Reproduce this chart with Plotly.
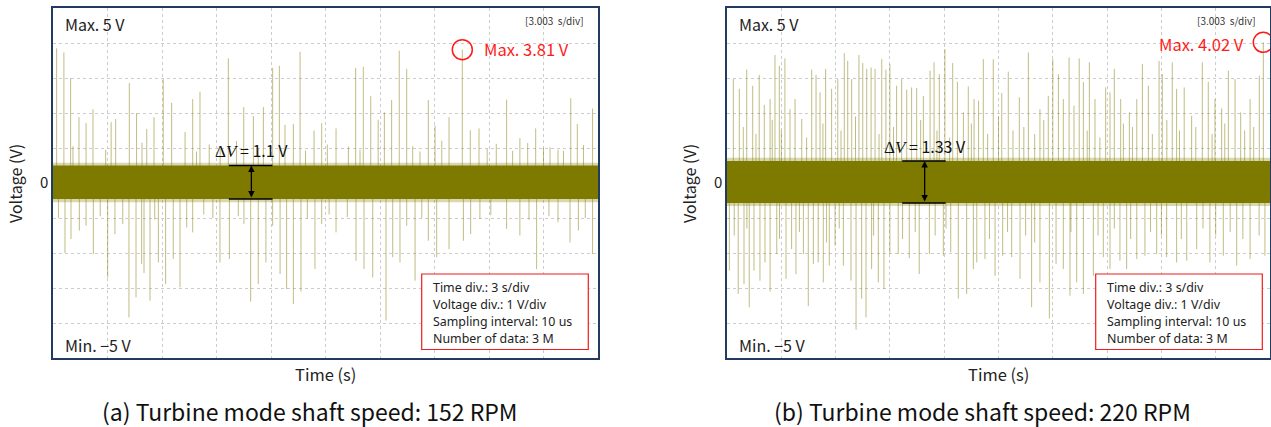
import plotly.graph_objects as go

W, H = 1271, 427
FONT = "Noto Sans CJK KR"

# ---------------- data ----------------
# Panel (a) 152 RPM : noise band and spikes (time s, voltage V)
band_a = [-0.46, 0.50]
fringe_a = [-0.55, 0.58]
up_t_a = [0.2, 0.6, 0.97, 1.43, 1.82, 2.2, 3.2, 3.45, 4.2, 4.6, 5.16, 5.56, 6.07, 6.53, 7.27,
          7.69, 8.09, 9.65, 10.5, 11.03, 11.58, 12.09, 12.46, 12.77, 13.23, 13.6, 14.37, 14.79,
          15.58, 16.26, 16.66, 17.08, 17.49, 17.9, 18.24, 18.64, 19.06, 19.47, 20.66, 21.03,
          21.4, 21.8, 22.53, 22.97, 23.45, 24.97, 25.7, 26.13, 26.57, 27.36, 28.1, 28.5, 28.86, 29.7,
          1.1, 2.9, 4.9, 7.9, 8.6, 9.2, 10.1, 11.3, 13.9, 15.1, 16.9, 19.8, 20.2, 23.9, 24.4,
          25.3, 27.0, 27.8, 29.2]
up_v_a = [3.85, 3.73, 3.0, 1.88, 1.71, 2.11, 1.74, 1.83, 2.86, 2.0, 1.54, 1.88, 2.97, 2.29, 1.46,
          2.4, 2.61, 3.56, 2.17, 1.91, 2.17, 3.29, 3.35, 1.66, 1.69, 3.75, 1.5, 1.71,
          1.56, 1.04, 3.29, 3.32, 2.48, 1.81, 2.02, 2.37, 3.78, 3.26, 2.37, 1.64,
          1.21, 1.88, 3.81, 1.51, 1.56, 2.38, 1.28, 1.14, 1.56, 1.02, 0.92, 2.42, 1.69, 2.13,
          1.05, 0.95, 1.15, 0.9, 1.1, 0.98, 1.2, 1.0, 0.92, 1.1, 0.95, 1.05, 0.9, 0.97, 1.12,
          0.92, 1.0, 0.95, 1.08]
dn_t_a = [0.66, 0.99, 1.45, 1.82, 2.22, 3.01, 3.41, 3.84, 4.18, 4.57, 4.88, 5.01, 5.34, 5.8, 6.2,
          6.62, 6.99, 7.36, 7.69, 9.19, 9.71, 10.51, 10.88, 11.3, 11.72, 12.09, 12.5, 12.86,
          13.23, 13.65, 14.42, 14.79, 15.58, 16.68, 17.12, 17.6, 18.33, 18.7, 19.1, 19.47,
          19.93, 20.66, 21.12, 21.8, 22.59, 22.99, 23.5, 24.97, 25.7, 26.62, 27.8, 28.46, 28.92, 29.7,
          0.3, 2.6, 5.6, 8.3, 8.8, 10.2, 14.0, 15.2, 16.2, 20.3, 24.1, 26.2, 27.3, 29.3]
dn_v_a = [-2.0, -1.6, -1.36, -1.22, -2.03, -2.7, -1.46, -1.17, -3.84, -3.27, -2.31, -2.57, -3.36,
          -2.27, -2.89, -2.17, -2.98, -1.27, -1.41, -2.27, -2.17, -1.17, -3.39, -2.89, -2.27,
          -1.22, -2.6, -3.03, -3.46, -3.1, -2.46, -1.17, -1.41, -2.22, -2.46, -2.7, -3.93,
          -2.12, -2.27, -1.22, -2.79, -1.65, -2.12, -1.89, -1.65, -1.46, -1.03, -1.31, -1.5,
          -2.46, -1.12, -1.7, -1.36, -2.03,
          -1.0, -0.95, -1.05, -0.9, -1.0, -0.95, -1.02, -0.9, -0.97, -1.0, -0.92, -1.05, -0.95, -1.0]

# Panel (b) 220 RPM
band_b = [-0.57, 0.63]
fringe_b = [-0.66, 0.72]
up_t_b = [0.35, 0.68, 1.09, 1.42, 1.78, 2.06, 2.38, 2.65, 2.89, 3.2, 3.48, 3.76, 4.13, 4.68, 4.92,
          5.14, 5.45, 5.78, 6.12, 6.48, 6.67, 6.89, 7.29, 7.5, 7.72, 7.96, 8.18, 8.55, 8.78, 9.0,
          9.37, 9.65, 9.93, 10.2, 10.48, 10.85, 11.22, 11.44, 11.73, 12.04, 12.47, 12.73, 13.06,
          13.33, 13.65, 13.9, 14.16, 14.71, 15.18, 15.54, 16.15, 16.65, 17.29, 17.75, 18.0, 18.31,
          18.58, 18.9, 19.17, 19.46, 19.69, 20.02, 20.33, 20.92, 21.16, 21.4, 21.75, 22.23, 22.64,
          22.95, 23.28, 23.87, 24.05, 24.6, 24.84, 25.26, 25.67, 26.26, 26.59, 26.96, 27.33,
          27.7, 28.07, 28.38, 28.9, 29.41, 29.63,
          0.9, 1.6, 2.5, 3.0, 4.4, 5.3, 6.3, 7.1, 8.4, 9.2, 10.7, 11.6, 12.3, 13.5, 14.4, 15.0,
          15.8, 16.4, 17.0, 17.5, 19.9, 20.6, 21.9, 22.4, 23.5, 24.3, 25.0, 25.9, 26.8, 27.5,
          28.6, 29.1]
up_v_b = [2.97, 2.69, 3.24, 2.78, 3.09, 2.23, 2.4, 3.66, 3.35, 3.56, 2.11, 2.4, 1.83, 3.24, 3.09,
          2.59, 3.26, 2.69, 2.97, 3.71, 3.49, 2.97, 3.66, 3.43, 3.26, 3.3, 3.26, 3.54, 3.24, 3.4,
          2.78, 2.97, 2.67, 2.73, 2.71, 2.49, 3.21, 3.45, 3.11, 3.83, 3.43, 2.89, 2.02,
          2.76, 2.4, 2.35, 3.54, 3.54, 2.57, 3.18, 2.45, 3.73, 2.11, 2.49, 3.54, 3.11,
          2.4, 3.59, 2.21, 3.56, 2.88, 3.45, 2.4, 2.73, 2.59, 3.26, 2.4, 2.02, 2.4,
          3.4, 2.78, 3.49, 3.11, 3.45, 2.69, 2.73, 1.92, 3.45, 2.89, 2.4, 2.13,
          3.21, 2.97, 2.02, 2.4, 3.07, 4.02,
          1.6, 1.4, 1.8, 1.5, 1.3, 1.7, 1.5, 1.9, 1.4, 1.6, 1.8, 1.5, 1.3, 1.7, 1.4, 1.9,
          1.5, 1.6, 1.4, 1.8, 1.5, 1.3, 1.7, 1.6, 1.4, 1.8, 1.5, 1.6, 1.4, 1.7, 1.5, 1.6]
dn_t_b = [0.13, 0.62, 0.94, 1.23, 1.49, 1.82, 2.1, 2.38, 2.75, 3.26, 3.57, 3.81, 4.22, 4.49, 4.77,
          5.04, 5.32, 5.65, 5.97, 6.43, 6.85, 7.13, 7.44, 7.68, 7.99, 8.36, 8.67, 9.0, 9.46,
          10.07, 10.62, 11.18, 11.95, 12.36, 12.78, 13.24, 13.61, 13.8, 14.25, 14.81, 15.23,
          15.73, 16.19, 16.83, 17.29, 17.81, 18.18, 18.58, 18.95, 19.32, 19.69, 20.24, 20.79,
          21.16, 21.71, 22.08, 22.64, 23.09, 23.74, 24.29, 24.84, 25.4, 25.95, 26.68, 27.42,
          28.16, 28.9, 29.72,
          0.4, 1.1, 2.9, 4.0, 5.5, 6.2, 8.1, 9.7, 10.4, 11.5, 12.1, 14.5, 15.5, 16.5, 17.0,
          19.0, 20.5, 21.4, 22.3, 23.4, 24.0, 25.1, 26.3, 27.0, 27.8, 28.5, 29.4]
dn_v_b = [-2.5, -3.17, -2.89, -3.55, -2.5, -2.79, -2.27, -3.1, -2.03, -2.74, -1.89, -2.6, -2.03,
          -3.52, -2.31, -2.27, -2.84, -2.36, -1.79, -2.36, -2.79, -4.19, -3.31, -3.84, -2.46,
          -2.84, -3.03, -2.03, -2.03, -2.15, -2.6, -2.03, -2.08, -1.98, -3.3, -3.17, -2.46,
          -2.27, -2.17, -2.65, -2.08, -2.12, -2.74, -3.55, -2.84, -3.87, -2.31, -2.46, -3.22,
          -2.84, -3.17, -2.65, -2.12, -2.46, -2.22, -2.46, -2.17, -2.08, -2.03, -2.12, -2.27,
          -2.22, -1.89, -2.27, -2.08, -2.36, -2.17, -2.08,
          -1.5, -1.3, -1.6, -1.4, -1.7, -1.3, -1.5, -1.6, -1.4, -1.5, -1.3, -1.6, -1.4, -1.5,
          -1.7, -1.4, -1.5, -1.3, -1.6, -1.4, -1.5, -1.6, -1.3, -1.5, -1.4, -1.6, -1.5]

captions = ["(a) Turbine mode shaft speed: 152 RPM", "(b) Turbine mode shaft speed: 220 RPM"]
max_labels = ["Max. 3.81 V", "Max. 4.02 V"]
dv_labels = ["1.1 V", "1.33 V"]
info_lines = ["Time div.: 3 s/div", "Voltage div.: 1 V/div",
              "Sampling interval: 10 us", "Number of data: 3 M"]
x_grid = [3, 6, 9, 12, 15, 18, 21, 24, 27]
y_grid = [-4, -3, -2, -1, 0, 1, 2, 3, 4]
y_ticktext = ["", "", "", "", "0", "", "", "", ""]

# ---------------- geometry helpers (pixels -> paper) ----------------
def px(x):
    return x / W

def py(y):
    return 1 - y / H

panels = [
    dict(x0=53, x1=598, up_t=up_t_a, up_v=up_v_a, dn_t=dn_t_a, dn_v=dn_v_a, band=band_a,
         fringe=fringe_a, max_t=22.53, max_v=3.81),
    dict(x0=727, x1=1270, up_t=up_t_b, up_v=up_v_b, dn_t=dn_t_b, dn_v=dn_v_b, band=band_b,
         fringe=fringe_b, max_t=29.63, max_v=4.02),
]
TOP, BOT = 8, 358

fig = go.Figure()
BAND = "#7e7a00"
SPIKE = "rgba(140,135,30,0.55)"

def spikes(ts, vs):
    xs, ys = [], []
    for t, v in zip(ts, vs):
        xs += [t, t, None]
        ys += [0, v, None]
    return xs, ys

for i, p in enumerate(panels):
    xa = "x" if i == 0 else "x2"
    ya = "y" if i == 0 else "y2"
    xs, ys = spikes(p["up_t"] + p["dn_t"], p["up_v"] + p["dn_v"])
    fig.add_trace(go.Scatter(x=xs, y=ys, mode="lines", line=dict(color=SPIKE, width=1),
                             xaxis=xa, yaxis=ya, hoverinfo="skip", showlegend=False))
    lo, hi = p["fringe"]
    fig.add_trace(go.Scatter(x=[0, 30, 30, 0, 0], y=[lo, lo, hi, hi, lo], mode="lines",
                             fill="toself", fillcolor="rgba(126,122,0,0.3)", line=dict(width=0),
                             xaxis=xa, yaxis=ya, hoverinfo="skip", showlegend=False))
    lo, hi = p["band"]
    fig.add_trace(go.Scatter(x=[0, 30, 30, 0, 0], y=[lo, lo, hi, hi, lo], mode="lines",
                             fill="toself", fillcolor=BAND, line=dict(width=0),
                             xaxis=xa, yaxis=ya, hoverinfo="skip", showlegend=False))

axis_common = dict(showline=True, linecolor="#233b63", linewidth=1.5, mirror=True,
                   showgrid=True, gridcolor="#cccccc", griddash="dot", gridwidth=1,
                   zeroline=False, ticks="", fixedrange=True)
for i, p in enumerate(panels):
    sx = "xaxis" if i == 0 else "xaxis2"
    sy = "yaxis" if i == 0 else "yaxis2"
    fig.layout[sx] = dict(domain=[px(p["x0"]), px(p["x1"])], range=[0, 30],
                          tickvals=x_grid, ticktext=[""] * len(x_grid),
                          anchor="y" if i == 0 else "y2", **axis_common)
    fig.layout[sy] = dict(domain=[py(BOT), py(TOP)], range=[-5, 5], tickvals=y_grid,
                          ticktext=y_ticktext, anchor="x" if i == 0 else "x2",
                          tickfont=dict(family=FONT, size=15, color="#222"), **axis_common)

shapes, annos = [], []
for i, p in enumerate(panels):
    xr = "x" if i == 0 else "x2"
    yr = "y" if i == 0 else "y2"
    x0, x1 = p["x0"], p["x1"]
    wpx = x1 - x0
    sx = wpx / 30.0
    sy = (BOT - TOP) / 10.0
    lo, hi = p["band"]
    # delta V markers
    mx0 = 9.68
    mx1 = 12.08
    for yv in (hi, lo):
        shapes.append(dict(type="line", xref=xr, yref=yr, x0=mx0, x1=mx1, y0=yv, y1=yv,
                           line=dict(color="black", width=1.5)))
    annos.append(dict(xref=xr, yref=yr, x=10.92, y=hi, ax=10.92, ay=lo, axref=xr, ayref=yr,
                      showarrow=True, arrowhead=2, arrowside="end+start", arrowsize=1,
                      arrowwidth=1.3, arrowcolor="black", text=""))
    annos.append(dict(xref=xr, yref=yr, x=10.92, y=hi + 0.44, showarrow=False,
                      text="<span style='font-family:Liberation Serif;font-size:17px'>Δ<i>V</i></span> = " + dv_labels[i],
                      font=dict(family=FONT, size=16, color="#111"), xanchor="center",
                      yanchor="middle"))
    # circle at max
    r = 10
    shapes.append(dict(type="circle", xref=xr, yref=yr,
                       x0=p["max_t"] - r / sx, x1=p["max_t"] + r / sx,
                       y0=p["max_v"] - r / sy, y1=p["max_v"] + r / sy,
                       line=dict(color="#ff1a1a", width=1.5)))
    if i == 0:
        annos.append(dict(xref="paper", yref="paper", x=px(482), y=py(49), text=max_labels[i],
                          showarrow=False, xanchor="left", yanchor="middle",
                          font=dict(family=FONT, size=16.5, color="#ff1a1a")))
    else:
        annos.append(dict(xref="paper", yref="paper", x=px(1246), y=py(44), text=max_labels[i],
                          showarrow=False, xanchor="right", yanchor="middle",
                          font=dict(family=FONT, size=16.5, color="#ff1a1a")))
    # corner labels
    annos.append(dict(xref="paper", yref="paper", x=px(x0 + 10), y=py(24), text="Max. 5 V",
                      showarrow=False, xanchor="left", yanchor="middle",
                      font=dict(family=FONT, size=16, color="#222")))
    annos.append(dict(xref="paper", yref="paper", x=px(x0 + 10), y=py(345), text="Min. −5 V",
                      showarrow=False, xanchor="left", yanchor="middle",
                      font=dict(family=FONT, size=16, color="#222")))
    annos.append(dict(xref="paper", yref="paper", x=px(x1 - 12), y=py(20), text="[3.003  s/div]",
                      showarrow=False, xanchor="right", yanchor="middle",
                      font=dict(family=FONT, size=10, color="#333")))
    # info box
    bx0 = x0 + (421.7 - 53)
    bx1 = bx0 + 166.6
    shapes.append(dict(type="rect", xref="paper", yref="paper", x0=px(bx0), x1=px(bx1),
                       y0=py(349.5), y1=py(274), fillcolor="white",
                       line=dict(color="#ee1c1c", width=1.2), layer="above"))
    for k, ln in enumerate(info_lines):
        annos.append(dict(xref="paper", yref="paper", x=px(bx0 + 9.5), y=py(287 + 17 * k),
                          text=ln, showarrow=False, xanchor="left", yanchor="middle",
                          font=dict(family="Noto Sans", size=12.4, color="#222")))
    # axis titles
    cx = (x0 + x1) / 2
    annos.append(dict(xref="paper", yref="paper", x=px(cx), y=py(374), text="Time (s)",
                      showarrow=False, xanchor="center", yanchor="middle",
                      font=dict(family=FONT, size=16.5, color="#222")))
    annos.append(dict(xref="paper", yref="paper", x=px(x0 - 38), y=py(184), text="Voltage (V)",
                      showarrow=False, xanchor="center", yanchor="middle", textangle=-90,
                      font=dict(family=FONT, size=16, color="#222")))
    annos.append(dict(xref="paper", yref="paper", x=px(cx - 16), y=py(411), text=captions[i],
                      showarrow=False, xanchor="center", yanchor="middle",
                      font=dict(family=FONT, size=23, color="#111")))

fig.update_layout(width=W, height=H, margin=dict(l=0, r=0, t=0, b=0),
                  paper_bgcolor="white", plot_bgcolor="white", shapes=shapes,
                  annotations=annos, showlegend=False)

fig.write_html("out.html", config={"displayModeBar": False},
               post_script="document.body.style.margin='0';document.body.style.overflow='hidden';")
